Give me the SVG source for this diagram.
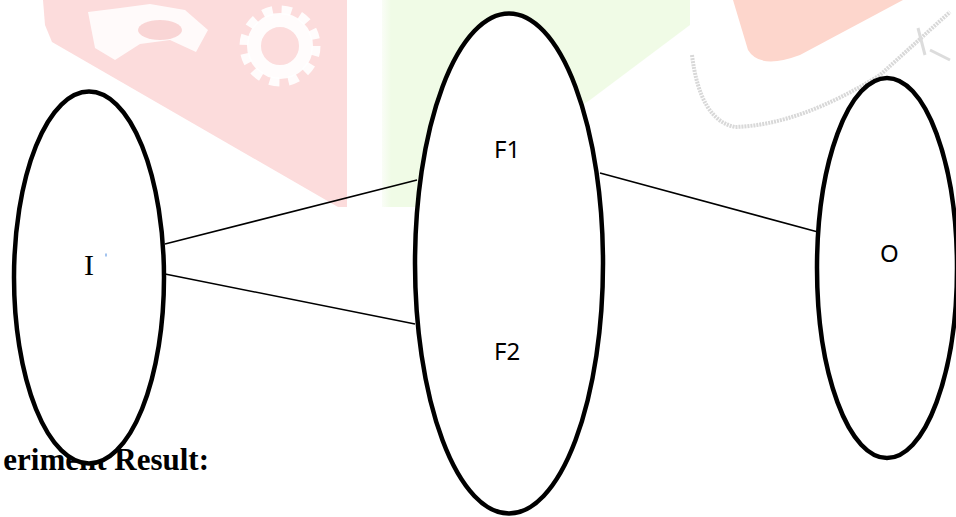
<svg xmlns="http://www.w3.org/2000/svg" width="956" height="517" viewBox="0 0 956 517">
<style>
.node{fill:#fff;stroke:#000;stroke-width:4.5}
.edge{stroke:#000;stroke-width:1.6;fill:none}
.lbl{font-family:"Noto Sans","Open Sans",sans-serif;font-size:24px;fill:#000}
.serif{font-family:"Liberation Serif","Times New Roman",serif;fill:#000}
</style>
<defs>
<linearGradient id="gfade" x1="0" y1="0" x2="1" y2="0">
<stop offset="0" stop-color="#fafdf7"/>
<stop offset="0.03" stop-color="#f0fbe6"/>
<stop offset="1" stop-color="#f0fbe6"/>
</linearGradient>
</defs>
<g id="watermark">
<polygon points="43,0 347,0 347,207 338,207 52,42 45,25" fill="#fcdcdc"/>
<path d="M88,12 L120,8 L150,4 L185,10 L208,30 L196,52 L170,40 L140,44 L115,60 L95,48 Z" fill="#fff" opacity="0.85"/>
<ellipse cx="160" cy="30" rx="22" ry="10" fill="#f8cccc" opacity="0.8"/>
<circle cx="280" cy="46" r="26" fill="none" stroke="#fff" stroke-width="14" opacity="0.9"/>
<circle cx="280" cy="46" r="36" fill="none" stroke="#fff" stroke-width="9" stroke-dasharray="10,9" opacity="0.9"/>
<polygon points="382,0 690,0 690,25 590,100 420,207 382,207" fill="url(#gfade)"/>
<path d="M733,0 L903,0 L800,55 Q760,70 748,50 Z" fill="#fdd6cc"/>
<path d="M692,55 Q700,120 735,127 Q800,125 880,75 L950,12" fill="none" stroke="#d8d8d8" stroke-width="4" stroke-dasharray="2,1"/>
<path d="M930,50 L950,60 M918,28 L925,55" fill="none" stroke="#dcdcdc" stroke-width="3"/>
</g>
<text class="serif" x="209" y="470" font-size="31" font-weight="bold" text-anchor="end">eriment Result:</text>
<g id="connectors">
<line class="edge" x1="165" y1="244" x2="417" y2="180"/>
<line class="edge" x1="165" y1="274" x2="415" y2="324"/>
<line class="edge" x1="600" y1="173" x2="818" y2="232"/>
</g>
<g id="node-I">
<ellipse class="node" cx="89" cy="277.5" rx="75" ry="186"/>
<text class="serif" x="84" y="275" font-size="30">I</text>
<rect x="105.5" y="253.5" width="1" height="3" fill="#4a8ae0"/>
</g>
<g id="node-F">
<ellipse class="node" cx="509" cy="263.5" rx="94" ry="250"/>
<text class="lbl" x="494" y="158">F1</text>
<text class="lbl" x="494" y="360">F2</text>
</g>
<g id="node-O">
<ellipse class="node" cx="887" cy="268" rx="70" ry="190"/>
<text class="lbl" x="880" y="262">O</text>
</g>
</svg>
